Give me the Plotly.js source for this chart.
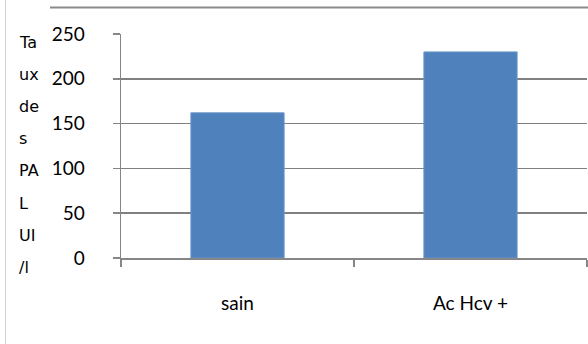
<!DOCTYPE html>
<html>
<head>
<meta charset="utf-8">
<script src="https://cdn.plot.ly/plotly-3.0.1.min.js"></script>
<style>
  html, body { margin: 0; padding: 0; background: #fff; }
  #chart { width: 588px; height: 344px; }
</style>
</head>
<body>
<div id="chart"></div>
<script>
// Taux des PAL (UI/l) par groupe
const categories = ['sain', 'Ac Hcv +'];
const palValues = [162, 230];
const yTicks = [0, 50, 100, 150, 200, 250];
// y-axis title, broken into the short pieces stacked beside the axis
const titlePieces = ['Ta', 'ux', 'de', 's', 'PA', 'L', 'UI', '/l'];

const W = 588, H = 344;
const margin = { l: 121, r: 1, t: 34, b: 86 };
const plotH = H - margin.t - margin.b;
const plotW = W - margin.l - margin.r;

// pixel -> paper helpers for the stacked title
const paperY = py => (H - margin.b - py) / plotH;
const paperX = px => (px - margin.l) / plotW;

const annotations = titlePieces.map((t, i) => ({
  text: t,
  xref: 'paper', yref: 'paper',
  x: paperX(17), y: paperY(42 + i * 32.2),
  xanchor: 'left', yanchor: 'middle',
  showarrow: false,
  font: { family: 'DejaVu Sans', size: 16, color: '#000' }
}));

const trace = {
  type: 'bar',
  x: categories,
  y: palValues,
  width: 0.4,
  marker: { color: '#4f81bd', line: { color: '#6a95c9', width: 1 } },
  hoverinfo: 'none'
};

const layout = {
  width: W, height: H,
  margin: margin,
  paper_bgcolor: '#fff',
  plot_bgcolor: '#fff',
  showlegend: false,
  bargap: 0.6,
  xaxis: {
    type: 'category',
    showline: true, linecolor: '#868686', linewidth: 1.5,
    ticks: 'outside', tickson: 'boundaries', ticklen: 7,
    tickcolor: '#868686', tickwidth: 1.5,
    ticklabelstandoff: 28,
    tickfont: { family: 'Lato', size: 19, color: '#000' },
    showgrid: false, zeroline: false
  },
  yaxis: {
    range: [0, 250],
    tickvals: yTicks,
    showline: true, linecolor: '#868686', linewidth: 1.5,
    ticks: 'outside', ticklen: 7, tickcolor: '#868686', tickwidth: 1.5,
    ticklabelstandoff: 24,
    tickfont: { family: 'Lato', size: 19, color: '#000' },
    showgrid: true, gridcolor: '#808080', gridwidth: 1.5,
    zeroline: false
  },
  annotations: annotations,
  shapes: [
    { type: 'line', xref: 'paper', yref: 'paper',
      x0: paperX(50), x1: paperX(588), y0: paperY(7.5), y1: paperY(7.5),
      line: { color: '#8a8a8a', width: 2 } },
    { type: 'line', xref: 'paper', yref: 'paper',
      x0: paperX(5.5), x1: paperX(5.5), y0: paperY(0), y1: paperY(344),
      line: { color: '#d4d4d4', width: 1 } }
  ]
};

Plotly.newPlot('chart', [trace], layout, { staticPlot: true, displayModeBar: false });
</script>
</body>
</html>
